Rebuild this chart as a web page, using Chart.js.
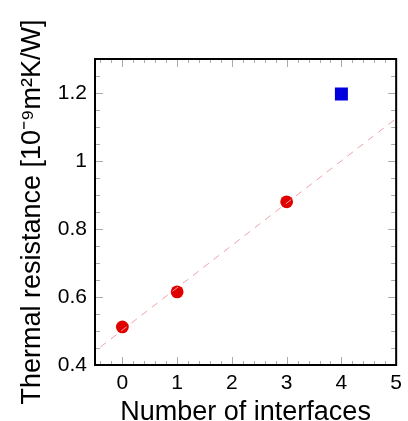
<!DOCTYPE html>
<html><head><meta charset="utf-8">
<script src="https://cdn.jsdelivr.net/npm/chart.js@4/dist/chart.umd.min.js"></script>
<style>html,body{margin:0;padding:0;background:#fff}</style>
</head><body>
<canvas id="c" width="408" height="421"></canvas>
<script>
// ---- data ----
const interfaces = [0, 1, 3];
const resistance = [0.512, 0.615, 0.880];
const otherX = [4];
const otherY = [1.197];
const fitX = [-0.4, 5];
const fitY = [0.453, 1.125];
const xTickValues = [0, 1, 2, 3, 4, 5];
const yTickValues = [0.4, 0.6, 0.8, 1, 1.2];
const xMinorStep = 0.2;
const yMinorStep = 0.05;

const FONT = '"Liberation Sans", Arial, Helvetica, sans-serif';

const framePlugin = {
  id: 'frame',
  beforeDatasetsDraw(chart) {
    const {ctx, chartArea: a, scales: {x, y}} = chart;
    ctx.save();
    ctx.strokeStyle = '#aaaaaa';
    ctx.lineWidth = 1;
    ctx.beginPath();
    const isMajor = (v, arr) => arr.some(t => Math.abs(t - v) < 1e-6);
    for (let v = y.min; v <= y.max + 1e-9; v += yMinorStep) {
      const p = Math.round(y.getPixelForValue(v)) + 0.5;
      const L = isMajor(v, yTickValues) ? 8 : 5;
      ctx.moveTo(a.left, p); ctx.lineTo(a.left + L, p);
      ctx.moveTo(a.right, p); ctx.lineTo(a.right - L, p);
    }
    const start = Math.ceil(x.min / xMinorStep) * xMinorStep;
    for (let v = start; v <= x.max + 1e-9; v += xMinorStep) {
      const p = Math.round(x.getPixelForValue(v)) + 0.5;
      const L = isMajor(v, xTickValues) ? 8 : 4;
      ctx.moveTo(p, a.bottom); ctx.lineTo(p, a.bottom - L);
      ctx.moveTo(p, a.top); ctx.lineTo(p, a.top + L);
    }
    ctx.stroke();
    ctx.restore();
  },
  afterDatasetsDraw(chart) {
    const {ctx, chartArea: a} = chart;
    ctx.save();
    ctx.strokeStyle = '#000';
    ctx.lineWidth = 2;
    ctx.strokeRect(a.left, a.top, a.right - a.left, a.bottom - a.top);
    ctx.restore();
  }
};

new Chart(document.getElementById('c'), {
  type: 'scatter',
  data: {
    datasets: [
      {
        data: fitX.map((v, i) => ({x: v, y: fitY[i]})),
        showLine: true,
        borderColor: '#f2a0a8',
        borderWidth: 1,
        borderDash: [7, 6],
        pointRadius: 0,
        fill: false
      },
      {
        data: interfaces.map((v, i) => ({x: v, y: resistance[i]})),
        pointStyle: 'circle',
        pointRadius: 6.4,
        backgroundColor: '#e00000',
        borderWidth: 0
      },
      {
        data: otherX.map((v, i) => ({x: v, y: otherY[i]})),
        pointStyle: 'rect',
        pointRadius: 9.2,
        backgroundColor: '#0000dd',
        borderWidth: 0
      }
    ]
  },
  options: {
    responsive: false,
    animation: false,
    devicePixelRatio: 1,
    layout: {padding: {top: 59, right: 7, left: 0, bottom: 0}},
    plugins: {legend: {display: false}, tooltip: {enabled: false}},
    scales: {
      x: {
        type: 'linear',
        min: -0.5,
        max: 5,
        afterBuildTicks: s => { s.ticks = xTickValues.map(v => ({value: v})); },
        afterFit: s => { s.height = 56; },
        grid: {display: false, drawTicks: false},
        border: {display: false},
        ticks: {color: '#000', padding: 6, font: {family: FONT, size: 21}, autoSkip: false, maxRotation: 0,
                callback: v => String(+Number(v).toFixed(2))},
        title: {display: true, text: 'Number of interfaces', color: '#000',
                font: {family: FONT, size: 27, lineHeight: 0.65}, padding: 0}
      },
      y: {
        type: 'linear',
        min: 0.4,
        max: 1.3,
        afterBuildTicks: s => { s.ticks = yTickValues.map(v => ({value: v})); },
        afterFit: s => { s.width = 95; },
        grid: {display: false, drawTicks: false},
        border: {display: false},
        ticks: {color: '#000', padding: 8, font: {family: FONT, size: 21}, autoSkip: false,
                callback: v => String(+Number(v).toFixed(2))},
        title: {display: true, text: 'Thermal resistance [10⁻⁹m²K/W]', color: '#000',
                font: {family: FONT, size: 27, lineHeight: 1}, padding: {top: 19, bottom: 0}}
      }
    }
  },
  plugins: [framePlugin]
});
</script>
</body></html>
